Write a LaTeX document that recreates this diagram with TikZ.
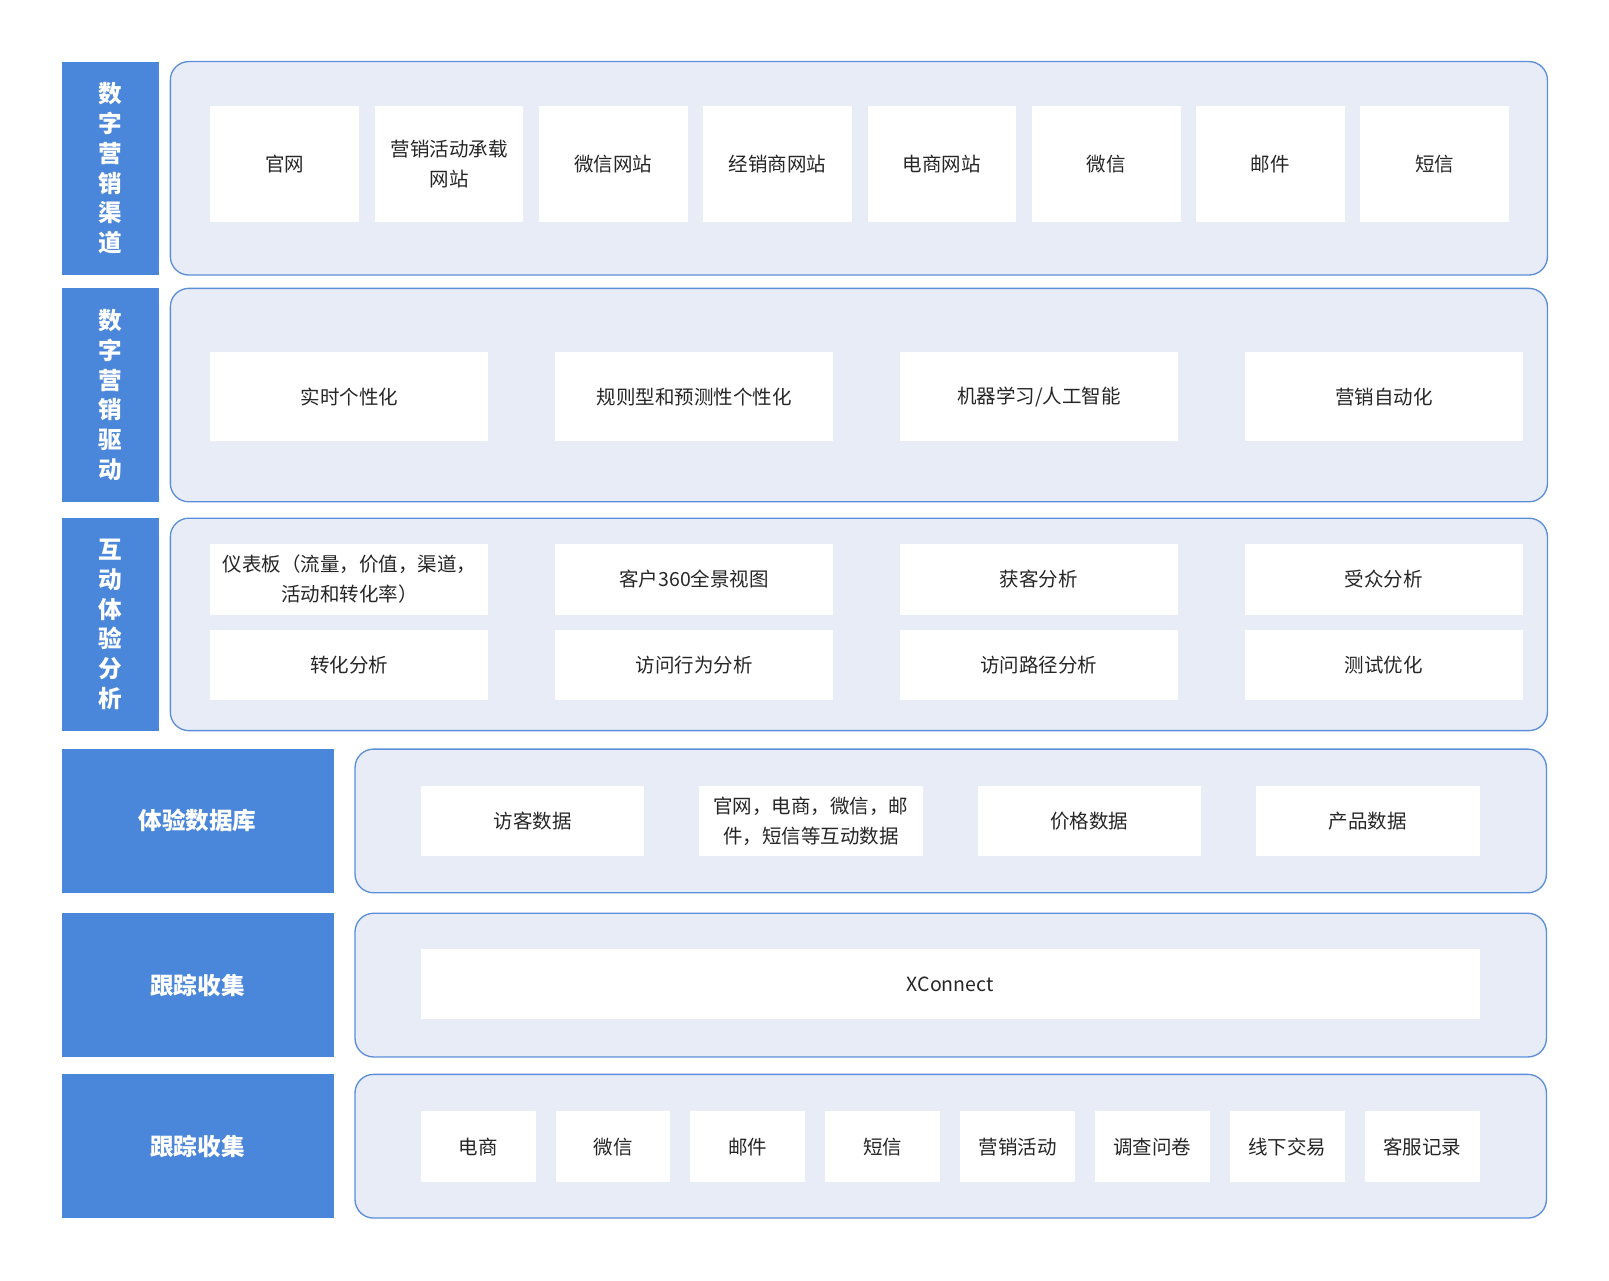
\documentclass[tikz,border=0pt]{standalone}
\usepackage{fontspec}
\setmainfont{Noto Sans CJK SC}
\begin{document}
\begin{tikzpicture}[x=1pt,y=-1pt,
 lab/.style={fill=labblue,draw=none,text=white,font=\fontsize{23}{29}\selectfont\bfseries,align=center,inner sep=0pt},
 panel/.style={fill=panelbg,draw=panelline,line width=1.3pt,rounded corners=18pt},
 itm/.style={fill=white,draw=none,font=\fontsize{19}{29}\selectfont,align=center,inner sep=0pt,text=black!85}]
\definecolor{labblue}{HTML}{4A86D9}
\definecolor{panelbg}{HTML}{E8ECF7}
\definecolor{panelline}{HTML}{5B8FD9}
\useasboundingbox (0,0) rectangle (1568,1248);
% labels
\newcommand{\lbl}[6]{\fill[labblue] (#1,#2) rectangle (#3,#4); \node[lab] (#5) at ({(#1+#3)/2},{(#2+#4)/2}) {#6};}
\lbl{60}{60}{155}{268}{l1}{数\\字\\营\\销\\渠\\道}
\lbl{60}{281}{155}{489}{l2}{数\\字\\营\\销\\驱\\动}
\lbl{60}{505}{155}{712}{l3}{互\\动\\体\\验\\分\\析}
\lbl{60}{730}{325}{870}{l4}{体验数据库}
\lbl{60}{890}{325}{1030}{l5}{跟踪收集}
\lbl{60}{1047}{325}{1187}{l6}{跟踪收集}
% panels
\draw[panel] (166,60) rectangle (1508,268);
\draw[panel] (166,281) rectangle (1508,489);
\draw[panel] (166,505) rectangle (1508,712);
\draw[panel] (346,730) rectangle (1507,870);
\draw[panel] (346,890) rectangle (1507,1030);
\draw[panel] (346,1047) rectangle (1507,1187);
\newcommand{\bx}[6]{\fill[white] (#1,#2) rectangle (#3,#4); \node[itm] (#5) at ({(#1+#3)/2},{(#2+#4)/2}) {#6};}
% row1
\foreach \t [count=\i from 0] in {官网,营销活动承载\\网站,微信网站,经销商网站,电商网站,微信,邮件,短信}{
  \pgfmathsetmacro{\xa}{205+160.1*\i}
  \fill[white] (\xa,103) rectangle (\xa+145,216);
  \node[itm] (a\i) at (\xa+72.5,160) {\t};
}
% row2
\foreach \t [count=\i from 0] in {实时个性化,规则型和预测性个性化,机器学习/人工智能,营销自动化}{
  \pgfmathsetmacro{\xa}{205+336*\i}
  \fill[white] (\xa,343) rectangle (\xa+271,430);
  \node[itm] (b\i) at (\xa+135.5,386.5) {\t};
}
% row3
\foreach \t [count=\i from 0] in {仪表板（流量，价值，渠道，\\活动和转化率）,客户360全景视图,获客分析,受众分析}{
  \pgfmathsetmacro{\xa}{205+336*\i}
  \fill[white] (\xa,530) rectangle (\xa+271,599);
  \node[itm] (c\i) at (\xa+135.5,564.5) {\t};
}
\foreach \t [count=\i from 0] in {转化分析,访问行为分析,访问路径分析,测试优化}{
  \pgfmathsetmacro{\xa}{205+336*\i}
  \fill[white] (\xa,614) rectangle (\xa+271,682);
  \node[itm] (d\i) at (\xa+135.5,648) {\t};
}
% row4
\foreach \t [count=\i from 0] in {访客数据,官网，电商，微信，邮\\件，短信等互动数据,价格数据,产品数据}{
  \pgfmathsetmacro{\xa}{410+271.3*\i}
  \fill[white] (\xa,766) rectangle (\xa+218,834);
  \node[itm] (e\i) at (\xa+109,800) {\t};
}
% row5
\fill[white] (410,925) rectangle (1442,993);
\node[itm] (x) at (926,959) {XConnect};
% row6
\foreach \t [count=\i from 0] in {电商,微信,邮件,短信,营销活动,调查问卷,线下交易,客服记录}{
  \pgfmathsetmacro{\xa}{410+131.4*\i}
  \fill[white] (\xa,1083) rectangle (\xa+112,1152);
  \node[itm] (f\i) at (\xa+56,1117.5) {\t};
}
\end{tikzpicture}
\end{document}
